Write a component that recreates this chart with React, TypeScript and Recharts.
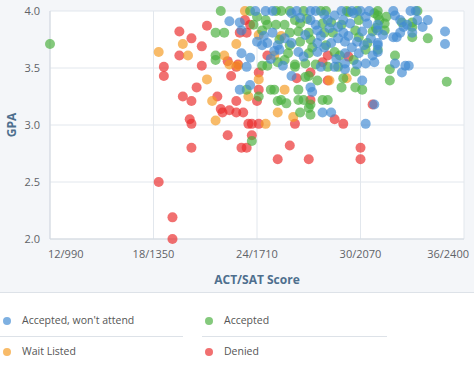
import React from 'react';
import { ScatterChart, Scatter, XAxis, YAxis, CartesianGrid } from 'recharts';

const actTicks = [12, 18, 24, 30, 36];
const actTickLabels = ['12/990', '18/1350', '24/1710', '30/2070', '36/2400'];
const gpaTicks = [2.0, 2.5, 3.0, 3.5, 4.0];

const deniedPts: [number, number][] = [
  [19.5,3.82],[20.2,3.76],[21.1,3.87],[20.8,3.69],[19.5,3.61],[22.3,3.56],[18.6,3.51],[18.6,3.43],[20.8,3.52],[22.8,3.51],
  [22.5,3.43],[20.5,3.33],[19.7,3.25],[20.2,3.21],[21.7,3.25],[22.8,3.21],[21.9,3.14],[22.0,3.11],[22.4,3.13],[22.8,3.11],
  [23.2,3.11],[20.1,3.05],[20.2,3.01],[22.3,2.91],[20.2,2.80],[23.1,2.80],[23.4,2.80],[18.3,2.50],[19.1,2.19],[19.1,2.00],
  [23.7,2.91],[25.2,2.70],[25.9,2.82],[27.0,2.70],[30.0,2.80],[30.0,2.70],[24.1,3.46],[24.1,3.31],[24.0,3.21],[23.5,3.01],
  [23.7,3.01],[24.1,3.01],[23.6,3.88],[23.3,3.92],[23.0,3.81],[23.4,3.81],[24.6,3.61],[22.9,3.53],[26.3,3.41],[27.1,3.46],
  [28.1,3.39],[27.1,3.22],[28.5,3.05],[26.2,3.01],[29.0,3.01],[30.7,3.18],[28.1,3.61],[29.3,3.60],[27.8,3.55],
];

const waitListedPts: [number, number][] = [
  [19.7,3.71],[18.3,3.64],[20.0,3.61],[22.1,3.61],[22.4,3.53],[21.1,3.40],[21.4,3.21],[21.6,3.04],[22.8,3.71],[24.1,3.79],
  [25.4,3.78],[25.0,3.61],[22.9,3.52],[24.1,3.40],[23.5,3.25],[25.6,3.31],[25.2,3.11],[24.5,3.01],[28.2,3.39],[29.2,3.41],
  [26.1,3.07],[23.3,4.0],
];

const acceptedPts: [number, number][] = [
  [12.0,3.71],[21.9,4.0],[21.6,3.81],[22.1,3.81],[21.6,3.61],[21.6,3.57],[23.7,2.86],[23.8,3.88],[24.5,3.92],[24.6,3.88],
  [25.1,3.88],[24.3,3.52],[24.6,3.52],[25.2,3.55],[25.6,3.57],[23.4,3.31],[24.1,3.25],[24.8,3.31],[25.0,3.31],[25.2,3.21],
  [25.4,3.22],[25.7,3.19],[26.2,3.51],[26.8,3.42],[27.0,3.43],[27.5,3.39],[28.1,3.51],[29.0,3.41],[29.7,3.47],[29.7,3.33],
  [30.1,3.31],[28.9,3.33],[26.4,3.31],[26.4,3.22],[26.7,3.22],[27.8,3.22],[28.1,3.22],[27.0,3.15],[27.1,3.18],[26.5,3.11],
  [27.1,3.09],
  [25.1,4.0],[25.4,4.0],[25.9,4.0],[23.6,4.0],[26.7,4.0],[27.7,4.0],[28.0,4.0],[29.2,4.0],[29.8,4.0],[31.0,4.0],[33.3,4.0],
  [26.5,3.89],[28.9,3.88],[29.9,3.92],[30.8,3.98],[25.9,3.81],[26.4,3.82],[27.0,3.81],[27.9,3.81],[28.4,3.81],[29.7,3.83],
  [30.7,3.82],[26.5,3.73],[27.1,3.75],[30.4,3.72],[25.8,3.63],[27.0,3.63],[28.5,3.64],[26.2,3.53],[26.8,3.54],[27.4,3.53],
  [28.7,3.51],
  [31.0,3.96],[31.1,3.92],[32.4,3.90],[33.0,3.90],[31.4,3.89],[33.0,3.86],[31.4,3.83],[33.0,3.77],[33.9,3.76],[31.0,3.66],
  [32.0,3.61],[31.7,3.49],[31.7,3.39],[35.0,3.38],
  [26.2,3.92],[27.8,3.89],[29.3,3.99],[27.2,3.68],[30.3,3.66],[25.6,3.88],[28.8,3.61],[25.3,3.75],[24.3,3.83],
  [24.0,3.95],[25.9,3.70],[26.9,3.93],[28.3,3.90],[29.6,3.57],[30.9,3.85],[31.5,3.95],[28.0,3.70],[29.9,3.77],
];

const wontAttendPts: [number, number][] = [
  [22.4,3.91],[23.0,3.31],[23.9,4.0],[24.5,4.0],[23.0,3.90],[23.1,3.83],[24.9,3.81],[25.6,3.76],[24.0,3.73],[24.3,3.70],
  [24.6,3.72],[25.2,3.70],[25.3,3.66],[23.1,3.63],[23.6,3.59],[25.5,3.52],[23.4,3.51],[23.6,3.35],[26.0,3.43],[27.7,3.51],
  [28.5,3.51],[29.1,3.49],[30.1,3.39],[27.1,3.33],[27.2,3.29],[30.8,3.18],[27.8,3.11],[28.3,3.11],[30.3,3.01],
  [26.0,3.98],[27.1,3.92],[27.4,3.88],[28.1,3.92],[28.5,3.96],[29.0,3.92],[29.6,3.98],[30.3,3.95],[30.4,3.89],[27.5,3.83],
  [29.0,3.81],[30.1,3.82],[26.0,3.72],[27.5,3.72],[28.3,3.72],[29.1,3.73],[29.8,3.73],[31.0,3.72],[26.4,3.64],[27.5,3.64],
  [29.1,3.63],[29.9,3.63],[30.7,3.61],[29.1,3.54],[29.8,3.53],[30.3,3.54],[30.8,3.55],
  [31.9,4.0],[32.9,4.0],[33.2,4.0],[32.0,3.96],[32.3,3.92],[33.3,3.92],[33.9,3.92],[31.0,3.88],[32.5,3.86],[32.7,3.88],
  [33.6,3.86],[31.0,3.83],[32.3,3.81],[32.1,3.77],[31.9,3.77],[34.9,3.82],[33.0,3.81],[34.9,3.71],[31.0,3.70],[31.0,3.64],
  [32.0,3.54],[32.6,3.52],[32.8,3.52],[32.4,3.46],
  [26.3,4.0],[27.1,4.0],[27.4,4.0],[28.9,4.0],[29.5,4.0],[30.0,4.0],[30.5,4.0],[24.9,4.0],
  [26.5,3.94],[28.2,3.85],[29.4,3.89],[26.8,3.79],[28.7,3.76],[27.9,3.68],[29.5,3.68],[30.6,3.76],
  [24.4,3.78],[25.0,3.65],[24.8,3.58],[27.9,3.97],[28.7,3.86],[29.3,3.78],[30.2,3.70],[31.3,3.79],[26.7,3.60],[27.7,3.78],
  [28.6,3.58],
];

const toData = (pts: [number, number][]) => pts.map(([act, gpa]) => ({ act, gpa }));

const COLORS = {
  wont: '#418bd3',
  accepted: '#4ab03e',
  wait: '#f49b22',
  denied: '#ea2c2c',
};

const dot = (color: string) => (props: any) => (
  <circle cx={props.cx} cy={props.cy} r={5} fill={color} fillOpacity={0.68} />
);

const XTick = (props: any) => {
  const { x, y, payload, index } = props;
  const i = actTicks.indexOf(payload.value);
  const anchor = index === 0 ? 'start' : i === actTicks.length - 1 ? 'end' : 'middle';
  return (
    <text x={x + (index === 0 ? -2 : i === actTicks.length - 1 ? 5 : 0)} y={y} dy="0.71em" textAnchor={anchor} fill="#5f6368" fontSize={11} fontFamily="'Open Sans', sans-serif">
      {actTickLabels[i]}
    </text>
  );
};

const FONT = "'Open Sans', sans-serif";

const legendItems = [
  { label: "Accepted, won't attend", color: COLORS.wont, x: 0, y: 0 },
  { label: 'Accepted', color: COLORS.accepted, x: 202, y: 0 },
  { label: 'Wait Listed', color: COLORS.wait, x: 0, y: 31 },
  { label: 'Denied', color: COLORS.denied, x: 202, y: 31 },
];

export default function App() {
  return (
    <div style={{ position: 'absolute', left: 0, top: 0, width: 474, height: 367, background: '#ffffff', fontFamily: FONT }}>
      <div style={{ position: 'absolute', left: 0, top: 0, width: 474, height: 293, background: '#f4f6f9', borderBottom: '1px solid #dde2e8', boxSizing: 'border-box' }}>
        <ScatterChart width={474} height={293} margin={{ top: 11, right: 10, bottom: 0, left: 0 }}>
          <CartesianGrid stroke="#e2e7ed" fill="#ffffff" />
          <XAxis
            type="number"
            dataKey="act"
            domain={[12, 36]}
            ticks={actTicks}
            tick={<XTick />}
            tickLine={false}
            tickMargin={5}
            axisLine={{ stroke: '#d3d9e0' }}
            height={54}
            interval={0}
            label={{ value: 'ACT/SAT Score', position: 'insideBottom', offset: 9, fill: '#4e6f8e', fontSize: 12, fontWeight: 700, fontFamily: FONT }}
          />
          <YAxis
            type="number"
            dataKey="gpa"
            domain={[2, 4]}
            ticks={gpaTicks}
            tickFormatter={(v: number) => v.toFixed(1)}
            tick={{ fill: '#5f6368', fontSize: 11, fontFamily: FONT }}
            tickLine={false}
            tickMargin={4}
            axisLine={{ stroke: '#d3d9e0' }}
            width={50}
            interval={0}
            label={{ value: 'GPA', angle: -90, position: 'insideLeft', offset: 12, fill: '#4e6f8e', fontSize: 12, fontWeight: 700, fontFamily: FONT, style: { textAnchor: 'middle' } }}
          />
          <Scatter name="Denied" data={toData(deniedPts)} shape={dot(COLORS.denied)} isAnimationActive={false} />
          <Scatter name="Wait Listed" data={toData(waitListedPts)} shape={dot(COLORS.wait)} isAnimationActive={false} />
          <Scatter name="Accepted" data={toData(acceptedPts)} shape={dot(COLORS.accepted)} isAnimationActive={false} />
          <Scatter name="Accepted, won't attend" data={toData(wontAttendPts)} shape={dot(COLORS.wont)} isAnimationActive={false} />
        </ScatterChart>
      </div>
      <div style={{ position: 'absolute', left: 0, top: 312 }}>
        {legendItems.map((it) => (
          <div key={it.label} style={{ position: 'absolute', left: it.x, top: it.y, width: 185, height: 20 }}>
            <span style={{ position: 'absolute', left: 3, top: 5, width: 8, height: 8, borderRadius: 4, background: it.color, opacity: 0.68 }} />
            <span style={{ position: 'absolute', left: 22, top: 1, fontSize: 10.5, color: '#555', whiteSpace: 'nowrap' }}>{it.label}</span>
          </div>
        ))}
        <div style={{ position: 'absolute', left: 0, top: 24, width: 183, height: 1, background: '#dde2e8' }} />
        <div style={{ position: 'absolute', left: 202, top: 24, width: 185, height: 1, background: '#dde2e8' }} />
      </div>
    </div>
  );
}
